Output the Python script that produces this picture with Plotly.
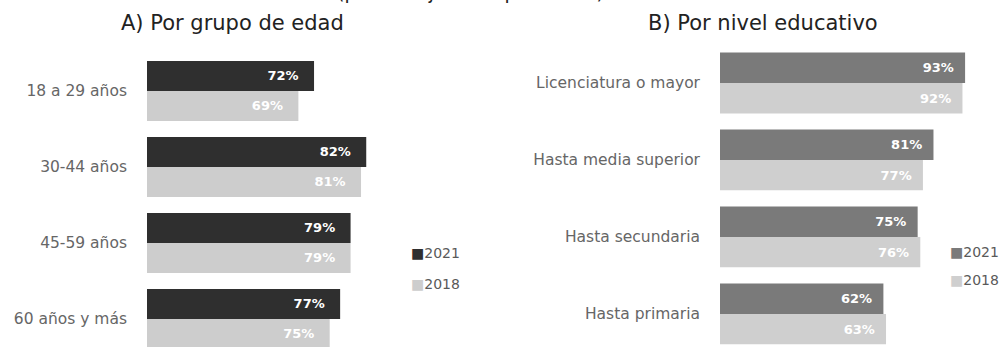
import plotly.graph_objects as go

W, H = 1003, 347

# Panel A: by age group
age_groups = ["18 a 29 años", "30-44 años", "45-59 años", "60 años y más"]
age_2021 = [72, 82, 79, 77]
age_2018 = [69, 81, 79, 75]

# Panel B: by education level
edu_levels = ["Licenciatura o mayor", "Hasta media superior", "Hasta secundaria", "Hasta primaria"]
edu_2021 = [93, 81, 75, 62]
edu_2018 = [92, 77, 76, 63]

years = ["2021", "2018"]

FONT = "DejaVu Sans"
A_DARK, A_LIGHT = "#2f2f2f", "#cdcdcd"
B_DARK, B_LIGHT = "#7a7a7a", "#cfcfcf"

fig = go.Figure()

def add_bar(x, y, name, color, xa, ya, pad):
    fig.add_trace(go.Bar(
        x=x, y=y, name=name, orientation="h",
        marker=dict(color=color, line=dict(width=0)),
        xaxis=xa, yaxis=ya, showlegend=False,
        texttemplate="<b>%{x}%</b>" + pad,
        textposition="inside", insidetextanchor="end",
        textfont=dict(family=FONT, size=13, color="white"),
        constraintext="none", cliponaxis=True,
        hoverinfo="skip",
    ))

add_bar(age_2021, age_groups, years[0], A_DARK, "x", "y", "&nbsp;&nbsp;&nbsp;")
add_bar(age_2018, age_groups, years[1], A_LIGHT, "x", "y", "&nbsp;&nbsp;&nbsp;")
add_bar(edu_2021, edu_levels, years[0], B_DARK, "x2", "y2", "&nbsp;&nbsp;")
add_bar(edu_2018, edu_levels, years[1], B_LIGHT, "x2", "y2", "&nbsp;&nbsp;")

axis_common = dict(showgrid=False, zeroline=False, showline=False, showticklabels=False,
                   fixedrange=True, automargin=False)
ycommon = dict(showgrid=False, zeroline=False, showline=False, ticks="", automargin=False,
               tickfont=dict(family=FONT, size=15.5, color="#666666"), ticklabelstandoff=19)

def legend_item(xpx, ypx, color, label):
    return dict(text=f"<span style='color:{color}'>■</span>{label}",
                x=xpx / W, y=1 - ypx / H, xref="paper", yref="paper",
                xanchor="left", yanchor="middle", showarrow=False,
                font=dict(family=FONT, size=14, color="#5a5a5a"))

fig.update_layout(
    width=W, height=H,
    margin=dict(l=0, r=0, t=0, b=0, autoexpand=False),
    paper_bgcolor="white", plot_bgcolor="white",
    barmode="group", bargap=0.21, bargroupgap=0,
    xaxis=dict(domain=[147 / W, 408 / W], range=[40, 90], **axis_common),
    xaxis2=dict(domain=[720 / W, 973 / W], range=[0, 96], **axis_common),
    yaxis=dict(domain=[0, 1 - 53 / H], categoryorder="array", categoryarray=age_groups,
               range=[3.37, -0.5], anchor="x", **ycommon),
    yaxis2=dict(domain=[0, 1 - 44.5 / H], categoryorder="array", categoryarray=edu_levels,
                range=[3.43, -0.5], anchor="x2", **ycommon),
    showlegend=False,
    annotations=[
        dict(text="A) Por grupo de edad", x=232 / W, y=1 - 23 / H, xref="paper", yref="paper",
             xanchor="center", yanchor="middle", showarrow=False,
             font=dict(family=FONT, size=21, color="#222222")),
        dict(text="B) Por nivel educativo", x=763 / W, y=1 - 23 / H, xref="paper", yref="paper",
             xanchor="center", yanchor="middle", showarrow=False,
             font=dict(family=FONT, size=21, color="#222222")),
        dict(text="(porcentaje de la población)", x=335 / W, y=1 + 8 / H, xref="paper", yref="paper",
             xanchor="left", yanchor="middle", showarrow=False,
             font=dict(family=FONT, size=19, color="#222222")),
        legend_item(409, 253, A_DARK, years[0]),
        legend_item(409, 284, A_LIGHT, years[1]),
        legend_item(948, 252, B_DARK, years[0]),
        legend_item(948, 280, B_LIGHT, years[1]),
    ],
)

fig.write_html("out.html", config={"displayModeBar": False, "staticPlot": True},
               post_script="document.body.style.margin='0';document.body.style.overflow='hidden';")
